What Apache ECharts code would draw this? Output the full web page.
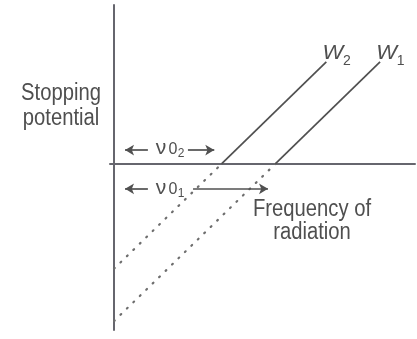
<!DOCTYPE html>
<html>
<head>
<meta charset="utf-8">
<script src="https://cdn.jsdelivr.net/npm/echarts@6/dist/echarts.min.js"></script>
<style>
  html, body { margin: 0; padding: 0; background: #ffffff; }
  #chart { width: 417px; height: 339px; }
</style>
</head>
<body>
<div id="chart"></div>
<script>
// Stopping potential against frequency for two emitting surfaces W1 and W2.
// Dotted parts are the extrapolation below the threshold frequency.
const surfaceNames = ['1', '2'];
const thresholdFreq = [6, 4];                 // ν01 (W1), ν02 (W2)
const w1Extrapolated = [[0, -6], [6, 0]];
const w1Measured = [[6, 0], [9.9, 3.9]];
const w2Extrapolated = [[0, -4], [4, 0]];
const w2Measured = [[4, 0], [7.9, 3.9]];
const yTitle = ['Stopping', 'potential'];
const xTitle = ['Frequency of', 'radiation'];
// heights of the two threshold-distance arrows
const arrowRows = [0.53, -0.95];              // row for ν02, row for ν01

const INK = '#505050';
const TEXT = '#4f4f4f';
const AXIS = '#66666e';
const FONT = 'Arial, "Liberation Sans", Helvetica, sans-serif';

const chart = echarts.init(document.getElementById('chart'), null, { renderer: 'canvas' });

const solid = { color: INK, width: 1.7, type: 'solid' };
const dotted = { color: '#6e6e6e', width: 2.2, type: [1, 8], cap: 'round' };

function lineSeries(name, data, style) {
  return {
    name: name, type: 'line', data: data, showSymbol: false, symbol: 'none',
    lineStyle: style, silent: true, z: 3, animation: false
  };
}

// arrows: a short one pointing back to the origin, a longer one toward ν0
function arrowPairs(row, nu0) {
  return [
    [{ coord: [1.26, row] }, { coord: [0.41, row] }],
    [{ coord: [nu0 < 5 ? 2.75 : 2.94, row] }, { coord: [nu0 - 0.27, row] }]
  ];
}

chart.setOption({
  animation: false,
  backgroundColor: '#ffffff',
  grid: { left: 110, right: 2, top: 5, bottom: 9 },
  xAxis: {
    type: 'value', min: -0.15, max: 11.2,
    axisLine: { show: true, onZero: true, lineStyle: { color: AXIS, width: 2 } },
    axisTick: { show: false }, axisLabel: { show: false }, splitLine: { show: false }
  },
  yAxis: {
    type: 'value', min: -6.34, max: 6.07,
    axisLine: { show: true, onZero: true, lineStyle: { color: AXIS, width: 2 } },
    axisTick: { show: false }, axisLabel: { show: false }, splitLine: { show: false }
  },
  series: [
    lineSeries('W1 extrapolated', w1Extrapolated, dotted),
    lineSeries('W1', w1Measured, solid),
    lineSeries('W2 extrapolated', w2Extrapolated, dotted),
    Object.assign(lineSeries('W2', w2Measured, solid), {
      markLine: {
        silent: true, animation: false,
        symbol: ['none', 'arrow'], symbolSize: [8, 9],
        label: { show: false },
        lineStyle: { color: INK, width: 1.7, type: 'solid' },
        emphasis: { disabled: true },
        data: arrowPairs(arrowRows[0], thresholdFreq[1]).concat(arrowPairs(arrowRows[1], thresholdFreq[0]))
      }
    })
  ]
});

// ---- text annotations ----
const els = [];
function txt(x, y, text, size, opts) {
  opts = opts || {};
  els.push({
    type: 'text', x: x, y: y, scaleX: opts.scaleX || 1, z: 10, silent: true,
    style: {
      text: text,
      font: (opts.italic ? 'italic ' : '') + size + 'px ' + FONT,
      fill: opts.fill || TEXT,
      textAlign: opts.align || 'center', align: opts.align || 'center',
      textVerticalAlign: 'middle', verticalAlign: 'middle',
      lineHeight: opts.lineHeight || size
    }
  });
}

// axis titles
txt(61, 106, yTitle.join('\n'), 23, { scaleX: 0.88, lineHeight: 25 });
txt(312, 221, xTitle.join('\n'), 23, { scaleX: 0.88, lineHeight: 23 });

// surface labels at the top of each line
const ends = [w1Measured[1], w2Measured[1]];
ends.forEach(function (pt, i) {
  const p = chart.convertToPixel({ gridIndex: 0 }, pt);
  txt(p[0] + 6.5, p[1] - 9, 'W', 21, { italic: true, scaleX: 1.05 });
  txt(p[0] + 20.5, p[1] - 1, surfaceNames[i], 14);
});

// threshold frequency symbols between the arrows
const nuRows = [
  { row: arrowRows[0], sub: '2' },
  { row: arrowRows[1], sub: '1' }
];
nuRows.forEach(function (r, i) {
  const p = chart.convertToPixel({ gridIndex: 0 }, [0, r.row]);
  const cy = p[1] + (i === 0 ? -2 : -1);
  txt(161, cy, 'ν', 21);
  txt(173, cy + 2, '0', 16);
  txt(181, cy + 6, r.sub, 12);
});

chart.setOption({ graphic: { elements: els } });
</script>
</body>
</html>
